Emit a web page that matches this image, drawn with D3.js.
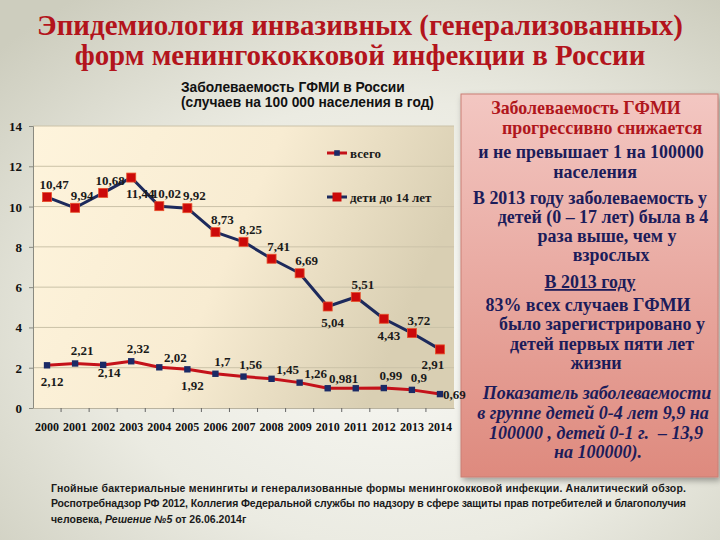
<!DOCTYPE html>
<html><head><meta charset="utf-8">
<script src="https://cdn.jsdelivr.net/npm/d3@7"></script>
<style>html,body{margin:0;padding:0;}svg{display:block;}</style>
</head><body>
<script>
// ---- data ----
const years = ["2000","2001","2002","2003","2004","2005","2006","2007","2008","2009","2010","2011","2012","2013","2014"];
const children = [10.47, 9.94, 10.68, 11.44, 10.02, 9.92, 8.73, 8.25, 7.41, 6.69, 5.04, 5.51, 4.43, 3.72, 2.91];
const total = [2.12, 2.21, 2.14, 2.32, 2.02, 1.92, 1.7, 1.56, 1.45, 1.26, 0.981, 0.98, 0.99, 0.9, 0.69];
const totalShowLabel = [1,1,1,1,1,1,1,1,1,1,1,0,1,1,1];
const childrenLabelPos = ["a","a","a","br","a","a","a","a","a","a","b","a","b","a","bl"];
const totalLabelPos = ["b","a","bn","a","ar","b","a","a","ar","ar","ar","a","a","a","r"];
const yTicks = [0, 2, 4, 6, 8, 10, 12, 14];
const seriesNames = ["всего", "дети до 14 лет"];

const W = 720, H = 540;
const svg = d3.select("body").append("svg").attr("width", W).attr("height", H);
const defs = svg.append("defs");

// background
const bg = defs.append("radialGradient").attr("id","bg").attr("cx","0.55").attr("cy","0.6").attr("r","0.75");
bg.append("stop").attr("offset","0").attr("stop-color","#f8f8f4");
bg.append("stop").attr("offset","0.55").attr("stop-color","#ebebe2");
bg.append("stop").attr("offset","1").attr("stop-color","#cdcdbe");
svg.append("rect").attr("width",W).attr("height",H).attr("fill","url(#bg)");

const plotBg = defs.append("linearGradient").attr("id","plotbg").attr("x1","0").attr("x2","1").attr("y1","0").attr("y2","0.3");
plotBg.append("stop").attr("offset","0").attr("stop-color","#fef4dc");
plotBg.append("stop").attr("offset","0.55").attr("stop-color","#f8ecd2");
plotBg.append("stop").attr("offset","1").attr("stop-color","#d9cfb3");

const boxG = defs.append("linearGradient").attr("id","boxg").attr("x1","0").attr("x2","0").attr("y1","0").attr("y2","1");
boxG.append("stop").attr("offset","0").attr("stop-color","#f3c7c2");
boxG.append("stop").attr("offset","1").attr("stop-color","#de8a7e");

const shadow = defs.append("filter").attr("id","sh").attr("x","-10%").attr("y","-10%").attr("width","130%").attr("height","130%");
shadow.append("feGaussianBlur").attr("in","SourceAlpha").attr("stdDeviation","3");
shadow.append("feOffset").attr("dx","2").attr("dy","3").attr("result","ob");
shadow.append("feComponentTransfer").append("feFuncA").attr("type","linear").attr("slope","0.35");
const fm = shadow.append("feMerge"); fm.append("feMergeNode"); fm.append("feMergeNode").attr("in","SourceGraphic");

const serif = "'Liberation Serif','Times New Roman',serif";
const sans = "'Liberation Sans',Arial,sans-serif";

function fitText(sel, target){
  const fs = parseFloat(sel.attr("font-size"));
  const w = sel.node().getComputedTextLength();
  sel.attr("font-size", (fs*target/w).toFixed(2));
}

// title
const t1 = svg.append("text").attr("x",360).attr("y",35).attr("text-anchor","middle")
  .attr("font-family",serif).attr("font-weight","bold").attr("font-size",28).attr("fill","#b3141c")
  .text("Эпидемиология инвазивных (генерализованных)");
fitText(t1, 646);
svg.append("text").attr("x",360).attr("y",65).attr("text-anchor","middle")
  .attr("font-family",serif).attr("font-weight","bold").attr("font-size",t1.attr("font-size")).attr("fill","#b3141c")
  .text("форм менингококковой инфекции в России");

// subtitle
const s1 = svg.append("text").attr("x",181).attr("y",92).attr("font-family",sans).attr("font-weight","bold")
  .attr("font-size",13).attr("fill","#111").text("Заболеваемость ГФМИ в России");
fitText(s1, 224);
svg.append("text").attr("x",181).attr("y",107).attr("font-family",sans).attr("font-weight","bold")
  .attr("font-size",s1.attr("font-size")).attr("fill","#111").text("(случаев на 100 000 населения в год)");

// ---- right box (drawn first so chart labels can overlap its edge) ----
svg.append("rect").attr("x",461).attr("y",94).attr("width",257).attr("height",383)
  .attr("fill","url(#boxg)").attr("stroke","#c97f74").attr("stroke-width",1).attr("filter","url(#sh)");
const boxLines = [
 {t:"Заболеваемость ГФМИ", c:"#b0161c", x:586, y:114, w:182},
 {t:"прогрессивно снижается", c:"#b0161c", x:602, y:134, w:197},
 {t:"и не превышает 1 на 100000", x:591, y:158, w:248},
 {t:"населения", x:595, y:178},
 {t:"В 2013 году заболеваемость у", x:590, y:204, w:251},
 {t:"детей (0 – 17 лет) была в 4", x:603, y:223, w:221},
 {t:"раза выше, чем у", x:607, y:242, w:159},
 {t:"взрослых", x:611, y:261},
 {t:"В 2013 году", x:590, y:288, u:true, w:89},
 {t:"83% всех случаев ГФМИ", x:588, y:311, w:203},
 {t:"было зарегистрировано у", x:602, y:330, w:205},
 {t:"детей первых пяти лет", x:602, y:350, w:193},
 {t:"жизни", x:596, y:369},
 {t:"Показатель заболеваемости", x:597, y:399, it:true, w:223},
 {t:"в группе детей 0-4 лет 9,9 на", x:593, y:419, it:true, w:234},
 {t:"100000 , детей 0-1 г.  – 13,9", x:596, y:439, it:true, w:212},
 {t:"на 100000).", x:598, y:458, it:true, w:121}
];
const bt = svg.append("g").selectAll("text").data(boxLines).join("text")
  .attr("x",d=>d.x).attr("y",d=>d.y).attr("text-anchor","middle")
  .attr("font-family",serif).attr("font-weight","bold").attr("font-size",17)
  .attr("font-style",d=>d.it?"italic":"normal")
  .attr("text-decoration",d=>d.u?"underline":null)
  .attr("fill",d=>d.c||"#1c1c5a").style("white-space","pre").text(d=>d.t);
let rN=[], rI=[];
bt.each(function(d){ if(d.w){ const r = d.w/this.getComputedTextLength(); (d.it?rI:rN).push(r);} });
const fsN = 17*d3.median(rN)*0.98, fsI = 17*d3.median(rI);
bt.attr("font-size",d=>d.it?fsI:fsN);

// ---- chart ----
const x = d3.scaleBand().domain(years).range([33, 454]);
const y = d3.scaleLinear().domain([0, 14]).range([408, 126]);
const cx = d => x(d) + x.bandwidth()/2;

svg.append("rect").attr("x",33).attr("y",126).attr("width",421).attr("height",282).attr("fill","url(#plotbg)");

// gridlines
svg.append("g").selectAll("line").data(yTicks.filter(v=>v>0)).join("line")
  .attr("x1",33).attr("x2",454).attr("y1",d=>y(d)).attr("y2",d=>y(d))
  .attr("stroke","#cbc2a8").attr("stroke-width",1);

// y axis
const yAxis = svg.append("g").attr("transform","translate(33,0)")
  .call(d3.axisLeft(y).tickValues(yTicks).tickSize(4).tickFormat(d3.format("d")));
yAxis.attr("font-family",serif).attr("font-size",13).attr("font-weight","bold");
yAxis.select(".domain").attr("stroke","#8a8a80");
yAxis.selectAll(".tick line").attr("stroke","#8a8a80");
yAxis.selectAll(".tick text").attr("fill","#111").attr("x",-11).attr("dy","0.35em");

// x axis
const xAxis = svg.append("g").attr("transform","translate(0,408)")
  .call(d3.axisBottom(x).tickSize(0).tickPadding(14));
xAxis.attr("font-family",serif).attr("font-size",12).attr("font-weight","bold");
xAxis.select(".domain").attr("stroke","#b9b3a0");
xAxis.selectAll(".tick text").attr("fill","#111");
svg.append("g").selectAll("line").data(years.slice(1)).join("line")
  .attr("x1",d=>x(d)).attr("x2",d=>x(d)).attr("y1",408).attr("y2",412)
  .attr("stroke","#666").attr("stroke-width",1);

// lines
const lineGen = d3.line().x((d,i)=>cx(years[i])).y(d=>y(d));
svg.append("path").datum(children).attr("d",lineGen).attr("fill","none")
  .attr("stroke","#1d2a5c").attr("stroke-width",3).attr("stroke-linejoin","round");
svg.append("path").datum(total).attr("d",lineGen).attr("fill","none")
  .attr("stroke","#c4121a").attr("stroke-width",3).attr("stroke-linejoin","round");

// markers
svg.append("g").selectAll("rect").data(children).join("rect")
  .attr("x",(d,i)=>cx(years[i])-4.5).attr("y",d=>y(d)-4.5).attr("width",9).attr("height",9)
  .attr("fill","#cc0a0a").attr("stroke","#e8502a").attr("stroke-width",0.8);
const diamond = d3.symbol().type(d3.symbolDiamond2).size(52);
svg.append("g").selectAll("path").data(total).join("path")
  .attr("d",diamond).attr("transform",(d,i)=>`translate(${cx(years[i])},${y(d)}) rotate(45)`)
  .attr("fill","#1b2a66");

// labels
const fmt = v => String(v).replace(".", ",");
const off = {a:[7,-8,"middle"], b:[5,21,"middle"], br:[9,20,"middle"], bl:[-7,20,"middle"],
             bn:[6,12,"middle"], ar:[16,-5,"middle"], r:[3,5,"start"]};
function labels(items, pos){
  svg.append("g").selectAll("text").data(items).join("text")
    .attr("x",o=>cx(years[o.i]) + off[pos[o.i]][0])
    .attr("y",o=>y(o.v) + off[pos[o.i]][1])
    .attr("text-anchor",o=>off[pos[o.i]][2])
    .attr("font-family",serif).attr("font-weight","bold").attr("font-size",13).attr("fill","#1a1a1a")
    .text(o=>fmt(o.v));
}
labels(children.map((v,i)=>({v,i})), childrenLabelPos);
labels(total.map((v,i)=>({v,i})).filter(o=>totalShowLabel[o.i]), totalLabelPos);

// legend
const leg = svg.append("g");
const legY = [153, 197];
leg.append("line").attr("x1",327).attr("x2",347).attr("y1",legY[0]).attr("y2",legY[0]).attr("stroke","#c4121a").attr("stroke-width",3);
leg.append("path").attr("d",d3.symbol().type(d3.symbolDiamond2).size(40)).attr("transform",`translate(337,${legY[0]}) rotate(45)`).attr("fill","#1b2a66");
leg.append("line").attr("x1",327).attr("x2",347).attr("y1",legY[1]).attr("y2",legY[1]).attr("stroke","#1d2a5c").attr("stroke-width",3);
leg.append("rect").attr("x",332.5).attr("y",legY[1]-4.5).attr("width",9).attr("height",9).attr("fill","#cc0a0a");
leg.selectAll("text").data(seriesNames).join("text")
  .attr("x",350).attr("y",(d,i)=>legY[i]+4.5)
  .attr("font-family",serif).attr("font-weight","bold").attr("font-size",13).attr("fill","#1a1a1a").text(d=>d);

// ---- footnote ----
const fnFont = "'Liberation Sans Narrow','Arial Narrow','Liberation Sans',Arial,sans-serif";
const fn = [
  {t:"Гнойные бактериальные менингиты и генерализованные формы менингококковой инфекции. Аналитический обзор.", y:492},
  {t:"Роспотребнадзор РФ 2012, Коллегия Федеральной службы по надзору в сфере защиты прав потребителей и благополучия", y:507}
];
svg.append("g").selectAll("text").data(fn).join("text")
  .attr("x",51).attr("y",d=>d.y).attr("font-family",fnFont).attr("font-weight","bold").attr("font-size",10.5)
  .attr("fill","#1a1a1a").attr("textLength",635).attr("lengthAdjust","spacing").text(d=>d.t);
const l3 = svg.append("text").attr("x",51).attr("y",523).attr("font-family",fnFont).attr("font-weight","bold")
  .attr("font-size",10.5).attr("fill","#1a1a1a");
l3.append("tspan").text("человека, ");
l3.append("tspan").attr("font-style","italic").text("Решение №5");
l3.append("tspan").text(" от 26.06.2014г");
</script>
</body></html>
